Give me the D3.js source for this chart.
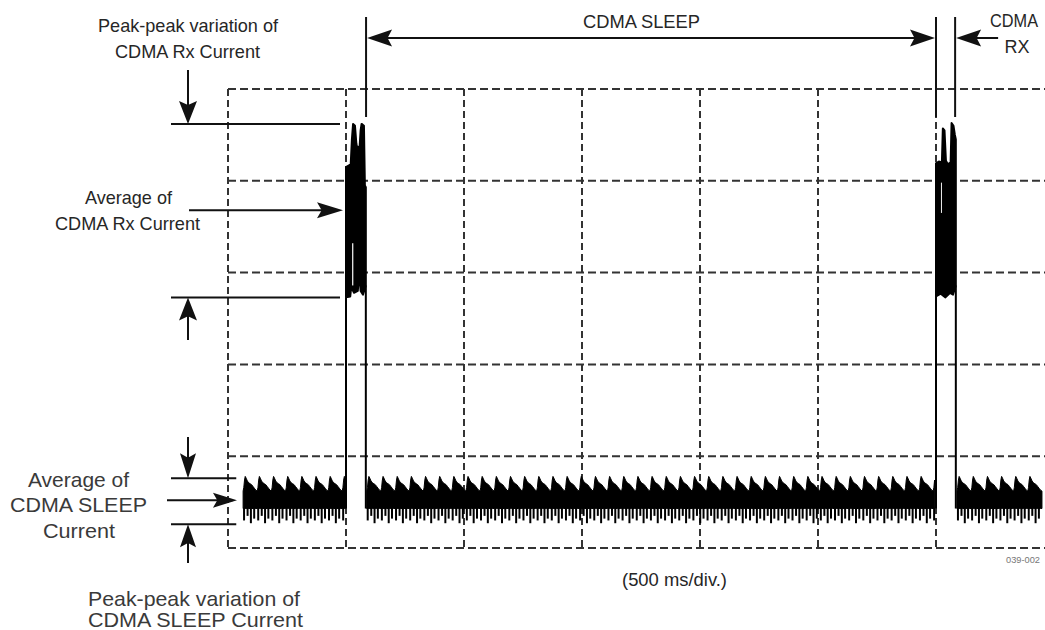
<!DOCTYPE html>
<html>
<head>
<meta charset="utf-8">
<script src="https://cdn.jsdelivr.net/npm/d3@7"></script>
<style>
  body { margin: 0; background: #fff; }
  text { font-family: "Liberation Sans", Arial, sans-serif; }
</style>
</head>
<body>
<div class="scope"></div>
<script>
var width = 1045,
    height = 630;

// time in ms (500 ms/div), current in screen divisions
var gridMs = [0, 500, 1000, 1500, 2000, 2500, 3000];
var gridDiv = [0, 1, 2, 3, 4, 5];

// one cycle of the CDMA SLEEP ripple
var rippleMs = [0, 3, 6, 9, 13, 18, 24, 30, 36, 42, 48, 54, 60];
var rippleHi = [0.62, 0.66, 0.74, 0.78, 0.76, 0.73, 0.71, 0.70, 0.69, 0.67, 0.65, 0.63, 0.62];
var sleepFloor = 0.43;
var spikeMs = [4, 19, 33, 47];
var spikeLo = [0.30, 0.35, 0.27, 0.32];
var sleepStart = [64, 588, 3089];
var sleepEnd = [500, 2996, 3449];

// CDMA Rx bursts (ms from burst start)
var burstStart = [500, 3000];
var burst1HiMs = [0, 20, 25, 30, 38, 44, 48, 58, 62, 66, 76, 80, 84];
var burst1Hi = [4.15, 4.18, 4.45, 4.62, 4.60, 4.40, 4.36, 4.38, 4.55, 4.62, 4.60, 3.95, 3.93];
var burst1LoMs = [0, 18, 22, 34, 50, 56, 62, 72, 84];
var burst1Lo = [2.73, 2.74, 2.84, 2.78, 2.80, 3.00, 2.80, 2.76, 2.86];
var burst2HiMs = [0, 12, 25, 29, 36, 42, 50, 62, 66, 74, 80, 84];
var burst2Hi = [4.19, 4.21, 4.20, 4.57, 4.55, 4.22, 4.18, 4.20, 4.63, 4.60, 4.50, 4.45];
var burst2LoMs = [0, 20, 40, 60, 72, 84];
var burst2Lo = [2.74, 2.77, 2.73, 2.78, 2.76, 2.86];
var gapMs = [[526, 531], [3021, 3025]];
var gapLo = [2.86, 3.65];
var gapHi = [3.32, 3.98];

// measured levels
var sleepPP = [0.26, 0.76], sleepAvg = 0.52;
var rxPP = [2.73, 4.62], rxAvg = 3.68;
var sleepFrom = 585, sleepTo = 3000, rxFrom = 3081;

var x = d3.scaleLinear().domain([0, 3500]).range([228, 1054]);
var y = d3.scaleLinear().domain([0, 5]).range([548, 89]);

var svg = d3.select(".scope")
  .append("svg")
  .attr("width", width)
  .attr("height", height);

// dashed graticule
svg.selectAll("line.vgrid")
  .data(gridMs)
  .enter()
  .append("line")
  .attr("class", "vgrid")
  .attr("x1", function(d) { return x(d); })
  .attr("x2", function(d) { return x(d); })
  .attr("y1", y(5))
  .attr("y2", y(0))
  .attr("stroke", "#333")
  .attr("stroke-width", 2)
  .attr("stroke-dasharray", "7,4");

svg.selectAll("line.hgrid")
  .data(gridDiv)
  .enter()
  .append("line")
  .attr("class", "hgrid")
  .attr("x1", x(0))
  .attr("x2", x(3500))
  .attr("y1", function(d) { return y(d); })
  .attr("y2", function(d) { return y(d); })
  .attr("stroke", "#333")
  .attr("stroke-width", 2)
  .attr("stroke-dasharray", "8,4");

// sleep ripple
var sleepArea = d3.area()
  .x(function(d) { return x(d[0]); })
  .y0(y(sleepFloor))
  .y1(function(d) { return y(d[1]); });

var period = rippleMs[rippleMs.length - 1];
sleepStart.forEach(function(s, i) {
  var pts = [], spikes = [];
  for (var t = s; t < sleepEnd[i]; t += period) {
    rippleMs.forEach(function(m, j) {
      if (t + m <= sleepEnd[i]) pts.push([t + m, rippleHi[j]]);
    });
    spikeMs.forEach(function(m, j) {
      if (t + m <= sleepEnd[i]) spikes.push([t + m, spikeLo[j]]);
    });
  }
  svg.append("path")
    .attr("d", sleepArea(pts))
    .attr("fill", "#000")
    .attr("stroke", "#000")
    .attr("stroke-width", 1)
    .attr("stroke-linejoin", "round");
  svg.selectAll(null)
    .data(spikes)
    .enter()
    .append("line")
    .attr("x1", function(d) { return x(d[0]); })
    .attr("x2", function(d) { return x(d[0]); })
    .attr("y1", y(sleepFloor) - 1)
    .attr("y2", function(d) { return y(d[1]); })
    .attr("stroke", "#000")
    .attr("stroke-width", 2);
});

// Rx bursts
var polyLine = d3.line()
  .x(function(d) { return x(d[0]); })
  .y(function(d) { return y(d[1]); });

var bursts = [
  [burst1HiMs, burst1Hi, burst1LoMs, burst1Lo],
  [burst2HiMs, burst2Hi, burst2LoMs, burst2Lo]
];
bursts.forEach(function(b, i) {
  var t0 = burstStart[i];
  var top = b[0].map(function(m, j) { return [t0 + m, b[1][j]]; });
  var bot = b[2].map(function(m, j) { return [t0 + m, b[3][j]]; }).reverse();
  svg.append("path")
    .attr("d", polyLine(top.concat(bot)) + "Z")
    .attr("fill", "#000")
    .attr("stroke", "#000")
    .attr("stroke-width", 2)
    .attr("stroke-linejoin", "round");
  var tEnd = t0 + b[0][b[0].length - 1];
  // edges joining burst to sleep level
  svg.append("line")
    .attr("x1", x(t0)).attr("x2", x(t0))
    .attr("y1", y(sleepFloor)).attr("y2", y(b[3][0]))
    .attr("stroke", "#000").attr("stroke-width", 2);
  svg.append("line")
    .attr("x1", x(tEnd)).attr("x2", x(tEnd))
    .attr("y1", y(b[3][b[3].length - 1])).attr("y2", y(sleepFloor))
    .attr("stroke", "#000").attr("stroke-width", 2);
});

gapMs.forEach(function(g, i) {
  svg.append("rect")
    .attr("x", x(g[0]))
    .attr("width", x(g[1]) - x(g[0]))
    .attr("y", y(gapHi[i]))
    .attr("height", y(gapLo[i]) - y(gapHi[i]))
    .attr("fill", "#fff");
});

// annotation helpers
var ink = "#111";
function seg(x1, y1, x2, y2) {
  svg.append("line")
    .attr("x1", x1).attr("y1", y1)
    .attr("x2", x2).attr("y2", y2)
    .attr("stroke", ink)
    .attr("stroke-width", 2);
}
function head(tx, ty, dx, dy, len, half) {
  var bx = tx - dx * len, by = ty - dy * len;
  var px = -dy * half, py = dx * half;
  var nx = tx - dx * len * 0.82, ny = ty - dy * len * 0.82;
  svg.append("path")
    .attr("d", "M" + tx + "," + ty +
      "L" + (bx + px) + "," + (by + py) +
      "L" + nx + "," + ny +
      "L" + (bx - px) + "," + (by - py) + "Z")
    .attr("fill", ink);
}
function label(txt, cx, base, size, w, fill) {
  svg.append("text")
    .attr("x", cx)
    .attr("y", base)
    .attr("text-anchor", "middle")
    .attr("font-size", size + "px")
    .attr("fill", fill)
    .attr("textLength", w)
    .attr("lengthAdjust", "spacingAndGlyphs")
    .text(txt);
}

// CDMA Rx peak-peak and average
seg(171, y(rxPP[1]), 340, y(rxPP[1]));
seg(171, y(rxPP[0]), 340, y(rxPP[0]));
seg(188, 70, 188, y(rxPP[1]) - 10);
head(188, y(rxPP[1]), 0, 1, 23, 9);
seg(188, 340, 188, y(rxPP[0]) + 10);
head(188, y(rxPP[0]), 0, -1, 23, 9);
seg(189, y(rxAvg), x(500) - 12, y(rxAvg));
head(x(500) - 3, y(rxAvg), 1, 0, 26, 8);

// CDMA SLEEP peak-peak and average
seg(171, y(sleepPP[1]), x(35), y(sleepPP[1]));
seg(171, y(sleepPP[0]), x(35), y(sleepPP[0]));
seg(188, 437, 188, y(sleepPP[1]) - 10);
head(188, y(sleepPP[1]), 0, 1, 25, 8);
seg(188, 563, 188, y(sleepPP[0]) + 10);
head(188, y(sleepPP[0]), 0, -1, 23, 8);
seg(167, y(sleepAvg), x(20), y(sleepAvg));
head(x(38), y(sleepAvg), 1, 0, 24, 7.5);

// interval markers
[sleepFrom, sleepTo, rxFrom].forEach(function(t) {
  seg(x(t), 17, x(t), 117);
});
seg(x(sleepFrom) + 10, 38, x(sleepTo) - 10, 38);
head(x(sleepFrom) + 1, 38, -1, 0, 25, 8.5);
head(x(sleepTo) - 1, 38, 1, 0, 25, 8.5);
seg(x(rxFrom) + 10, 38, x(rxFrom) + 43, 38);
head(x(rxFrom) + 1, 38, -1, 0, 25, 8.5);

// labels
var dark = "#262626", grey = "#3a3a3a";
label("Peak-peak variation of", 188, 32, 19, 180, dark);
label("CDMA Rx Current", 187.5, 58, 19, 145, dark);
label("Average of", 128.5, 204, 19, 87, dark);
label("CDMA Rx Current", 127.5, 230, 19, 145, dark);
label("CDMA SLEEP", 641.5, 28, 19, 117, dark);
label("CDMA", 1014, 27, 18, 48, dark);
label("RX", 1017, 53, 18, 25, dark);
label("(500 ms/div.)", 674.5, 586, 19, 105, dark);

label("Average of", 78.5, 487, 21, 101, grey);
label("CDMA SLEEP", 78.5, 512, 21, 137, grey);
label("Current", 79, 538, 21, 72, grey);
label("Peak-peak variation of", 194, 606, 21, 212, grey);
label("CDMA SLEEP Current", 195.5, 627, 21, 215, grey);
label("039-002", 1023, 563, 9, 34, "#777");
</script>
</body>
</html>
